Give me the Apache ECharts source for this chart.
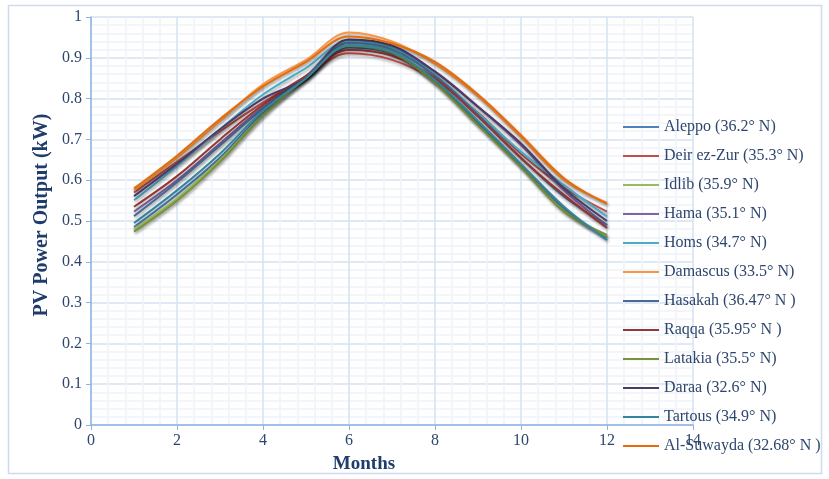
<!DOCTYPE html>
<html>
<head>
<meta charset="utf-8">
<script src="https://cdn.jsdelivr.net/npm/echarts@6/dist/echarts.min.js"></script>
<style>html,body{margin:0;padding:0;background:#fff}#c{width:829px;height:479px}</style>
</head>
<body>
<div id="c"></div>
<script>
const months = [1,2,3,4,5,6,7,8,9,10,11,12];
const cities = ["Aleppo (36.2° N)","Deir ez-Zur (35.3° N)","Idlib (35.9° N)","Hama (35.1° N)","Homs (34.7° N)","Damascus (33.5° N)","Hasakah (36.47° N )","Raqqa (35.95° N )","Latakia (35.5° N)","Daraa (32.6° N)","Tartous (34.9° N)","Al-Suwayda (32.68° N )"];
const aleppo    = [0.485,0.565,0.655,0.765,0.845,0.925,0.910,0.840,0.740,0.635,0.530,0.460];
const deirEzZur = [0.570,0.645,0.720,0.790,0.855,0.911,0.895,0.845,0.765,0.665,0.582,0.523];
const idlib     = [0.480,0.555,0.650,0.760,0.850,0.930,0.915,0.838,0.735,0.633,0.525,0.462];
const hama      = [0.523,0.600,0.690,0.780,0.855,0.942,0.925,0.866,0.780,0.686,0.575,0.490];
const homs      = [0.551,0.635,0.725,0.810,0.875,0.940,0.925,0.858,0.764,0.670,0.588,0.511];
const damascus  = [0.575,0.655,0.745,0.835,0.895,0.962,0.940,0.885,0.805,0.705,0.600,0.545];
const hasakah   = [0.512,0.595,0.685,0.775,0.855,0.936,0.920,0.855,0.760,0.655,0.560,0.490];
const raqqa     = [0.535,0.610,0.700,0.785,0.855,0.919,0.905,0.850,0.756,0.654,0.564,0.483];
const latakia   = [0.474,0.550,0.645,0.758,0.850,0.929,0.912,0.838,0.735,0.633,0.523,0.466];
const daraa     = [0.561,0.640,0.725,0.800,0.850,0.945,0.930,0.866,0.780,0.690,0.580,0.500];
const tartous   = [0.495,0.575,0.665,0.770,0.850,0.930,0.915,0.845,0.745,0.640,0.535,0.453];
const suwayda   = [0.580,0.660,0.750,0.830,0.890,0.952,0.935,0.890,0.810,0.710,0.605,0.542];
const xTicks = [0,2,4,6,8,10,12,14];
const yTicks = [0,0.1,0.2,0.3,0.4,0.5,0.6,0.7,0.8,0.9,1];

const values = [aleppo,deirEzZur,idlib,hama,homs,damascus,hasakah,raqqa,latakia,daraa,tartous,suwayda];
const colors = ["#4F81BD","#C0504D","#9BBB59","#8064A2","#4BACC6","#F79646","#4A6A94","#943634","#77933C","#4B3B66","#31859C","#E46C0A"];
const serif = "'Liberation Serif','DejaVu Serif',serif";
const txt = "#2E466E";

const series = cities.map((name,i)=>({
  name, type:'line', smooth:0.35, showSymbol:false, symbol:'none',
  data: months.map((m,j)=>[m, values[i][j]]),
  lineStyle:{width:2, color:colors[i], shadowColor:'rgba(0,0,0,0.35)', shadowBlur:3, shadowOffsetX:1, shadowOffsetY:2},
  itemStyle:{color:colors[i]}
}));

const chart = echarts.init(document.getElementById('c'), null, {renderer:'canvas'});
chart.setOption({
  animation:false,
  backgroundColor:'#fff',
  grid:{left:91, right:136, top:17, bottom:54, containLabel:false},
  xAxis:{type:'value', min:0, max:14, interval:2,
    axisLine:{show:true, lineStyle:{color:'#8DB3E2', width:1.5}},
    axisTick:{show:true, length:5, lineStyle:{color:'#8DB3E2'}},
    axisLabel:{fontFamily:serif, fontSize:16, color:txt, margin:8,
      formatter:v=> xTicks.includes(v)? String(v):''},
    splitLine:{show:true, lineStyle:{color:'#D5E2F3', width:1.5}},
    minorTick:{show:false, splitNumber:5},
    minorSplitLine:{show:true, lineStyle:{color:'#EEF3FA', width:1.5}}
  },
  yAxis:{type:'value', min:0, max:1, interval:0.1,
    axisLine:{show:true, lineStyle:{color:'#8DB3E2', width:1.5}},
    axisTick:{show:true, length:5, lineStyle:{color:'#8DB3E2'}},
    axisLabel:{fontFamily:serif, fontSize:16, color:txt, margin:9,
      formatter:v=>{const t=yTicks.find(y=>Math.abs(y-v)<1e-6); return t===undefined?'':String(t);}},
    splitLine:{show:true, lineStyle:{color:'#D5E2F3', width:1.5}},
    minorTick:{show:false, splitNumber:5},
    minorSplitLine:{show:true, lineStyle:{color:'#EEF3FA', width:1.5}}
  },
  legend:{orient:'vertical', left:618, top:113, itemWidth:36, itemHeight:2, icon:'rect', itemGap:11,
    textStyle:{fontFamily:serif, fontSize:16, color:txt, lineHeight:18},
    data:cities},
  graphic:[
    {type:'rect', silent:true, shape:{x:8.5, y:5.5, width:813, height:468}, style:{fill:'none', stroke:'#CFDBEA', lineWidth:1.5}},
    {type:'text', x:364, y:464, style:{text:'Months', align:'center', verticalAlign:'middle', font:"bold 19px 'Liberation Serif', serif", fill:'#1F3C6B'}},
    {type:'text', x:42, y:215, rotation:Math.PI/2, style:{text:'PV Power Output (kW)', align:'center', verticalAlign:'middle', font:"bold 20px 'Liberation Serif', serif", fill:'#1F3C6B'}}
  ],
  series
});
</script>
</body>
</html>
